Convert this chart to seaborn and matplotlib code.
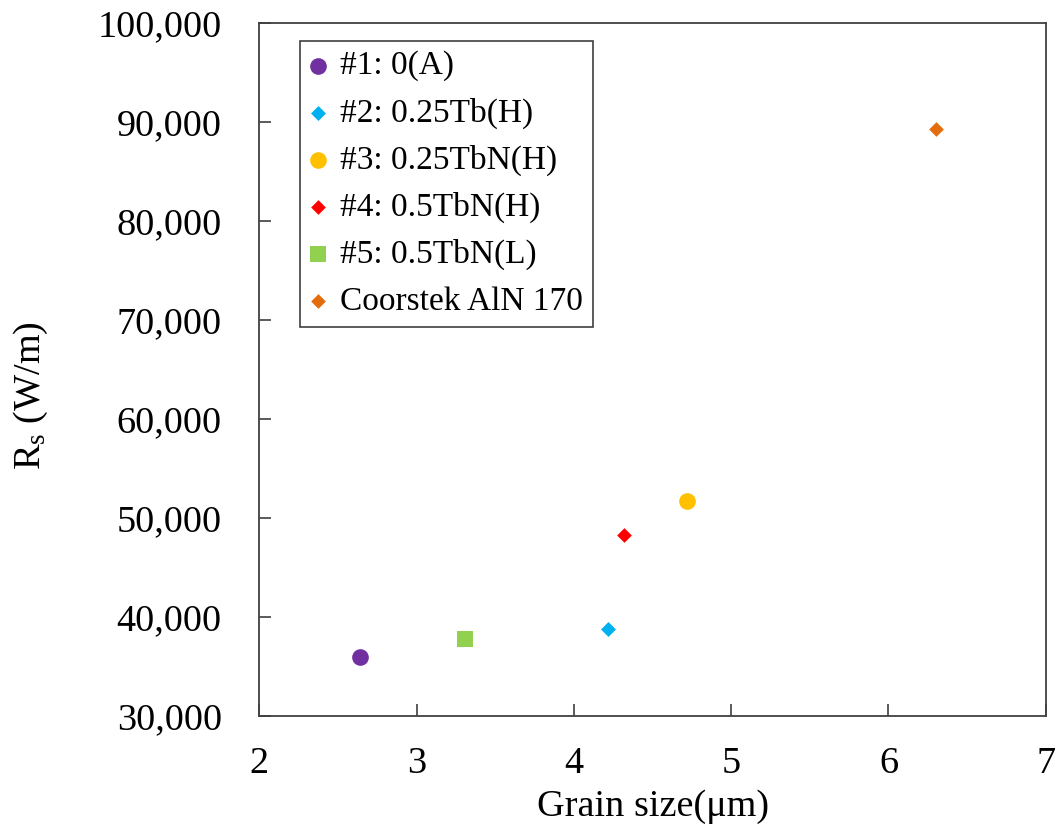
import numpy as np
import pandas as pd
import matplotlib
matplotlib.use('Agg')
import matplotlib.pyplot as plt
import matplotlib.ticker as mticker
import seaborn as sns

# samples: grain size (um) vs R_s (W/m)
labels = ['#1: 0(A)', '#2: 0.25Tb(H)', '#3: 0.25TbN(H)', '#4: 0.5TbN(H)',
          '#5: 0.5TbN(L)', 'Coorstek AlN 170']
grain_size = [2.64, 4.22, 4.72, 4.32, 3.31, 6.30]
rs = [36000, 38750, 51700, 48300, 37800, 89250]
colors = ['#7030A0', '#00B0F0', '#FFC000', '#FF0000', '#92D050', '#E46C0A']
markers = ['o', 'D', 'o', 'D', 's', 'D']
sizes = [144, 58, 144, 56, 144, 56]

sns.set_style('ticks')
plt.rcParams['font.family'] = ['Liberation Serif', 'DejaVu Serif']
plt.rcParams['mathtext.fontset'] = 'custom'
plt.rcParams['mathtext.rm'] = 'Liberation Serif'
plt.rcParams['mathtext.it'] = 'Liberation Serif:italic'
plt.rcParams['text.color'] = 'black'
plt.rcParams['axes.labelcolor'] = 'black'

fig = plt.figure(figsize=(10.58, 8.31), dpi=100)
ax = fig.add_axes([0.2451, 0.1384, 0.7433, 0.8339])

for lab, gx, ry, c, m, s in zip(labels, grain_size, rs, colors, markers, sizes):
    sns.scatterplot(x=[gx], y=[ry], color=c, marker=m, s=s, linewidth=0,
                    label=lab, ax=ax)

ax.set_xlim(2, 7)
ax.set_ylim(30000, 100000)
ax.set_xticks(range(2, 8))
ax.set_yticks(range(30000, 100001, 10000))
ax.yaxis.set_major_formatter(mticker.StrMethodFormatter('{x:,.0f}'))

for side in ['left', 'bottom', 'top', 'right']:
    ax.spines[side].set_color('#404040')
    ax.spines[side].set_linewidth(1.3)
ax.tick_params(axis='both', direction='in', length=8.5, width=1.2,
               color='#404040', labelsize=27.5, labelcolor='black')
ax.tick_params(axis='x', pad=22)
ax.tick_params(axis='y', pad=27)

ax.set_xlabel('Grain size(\u03bcm)', fontsize=27.5, labelpad=6)
ax.set_ylabel('R$_{\\rm s}$ (W/m)', fontsize=27.5)
ax.yaxis.set_label_coords(-0.266, 0.463)

leg = ax.legend(loc='upper left', bbox_to_anchor=(0.0518, 0.9745),
                borderaxespad=0, fontsize=24, frameon=True, fancybox=False,
                handlelength=0.5, handletextpad=0.4, labelspacing=0.48,
                borderpad=0.3, markerscale=1.0)
leg.get_frame().set_edgecolor('#404040')
leg.get_frame().set_linewidth(1.2)
leg.get_frame().set_alpha(1)
for t in leg.get_texts():
    t.set_color('black')

fig.savefig('out.png', dpi=100)
